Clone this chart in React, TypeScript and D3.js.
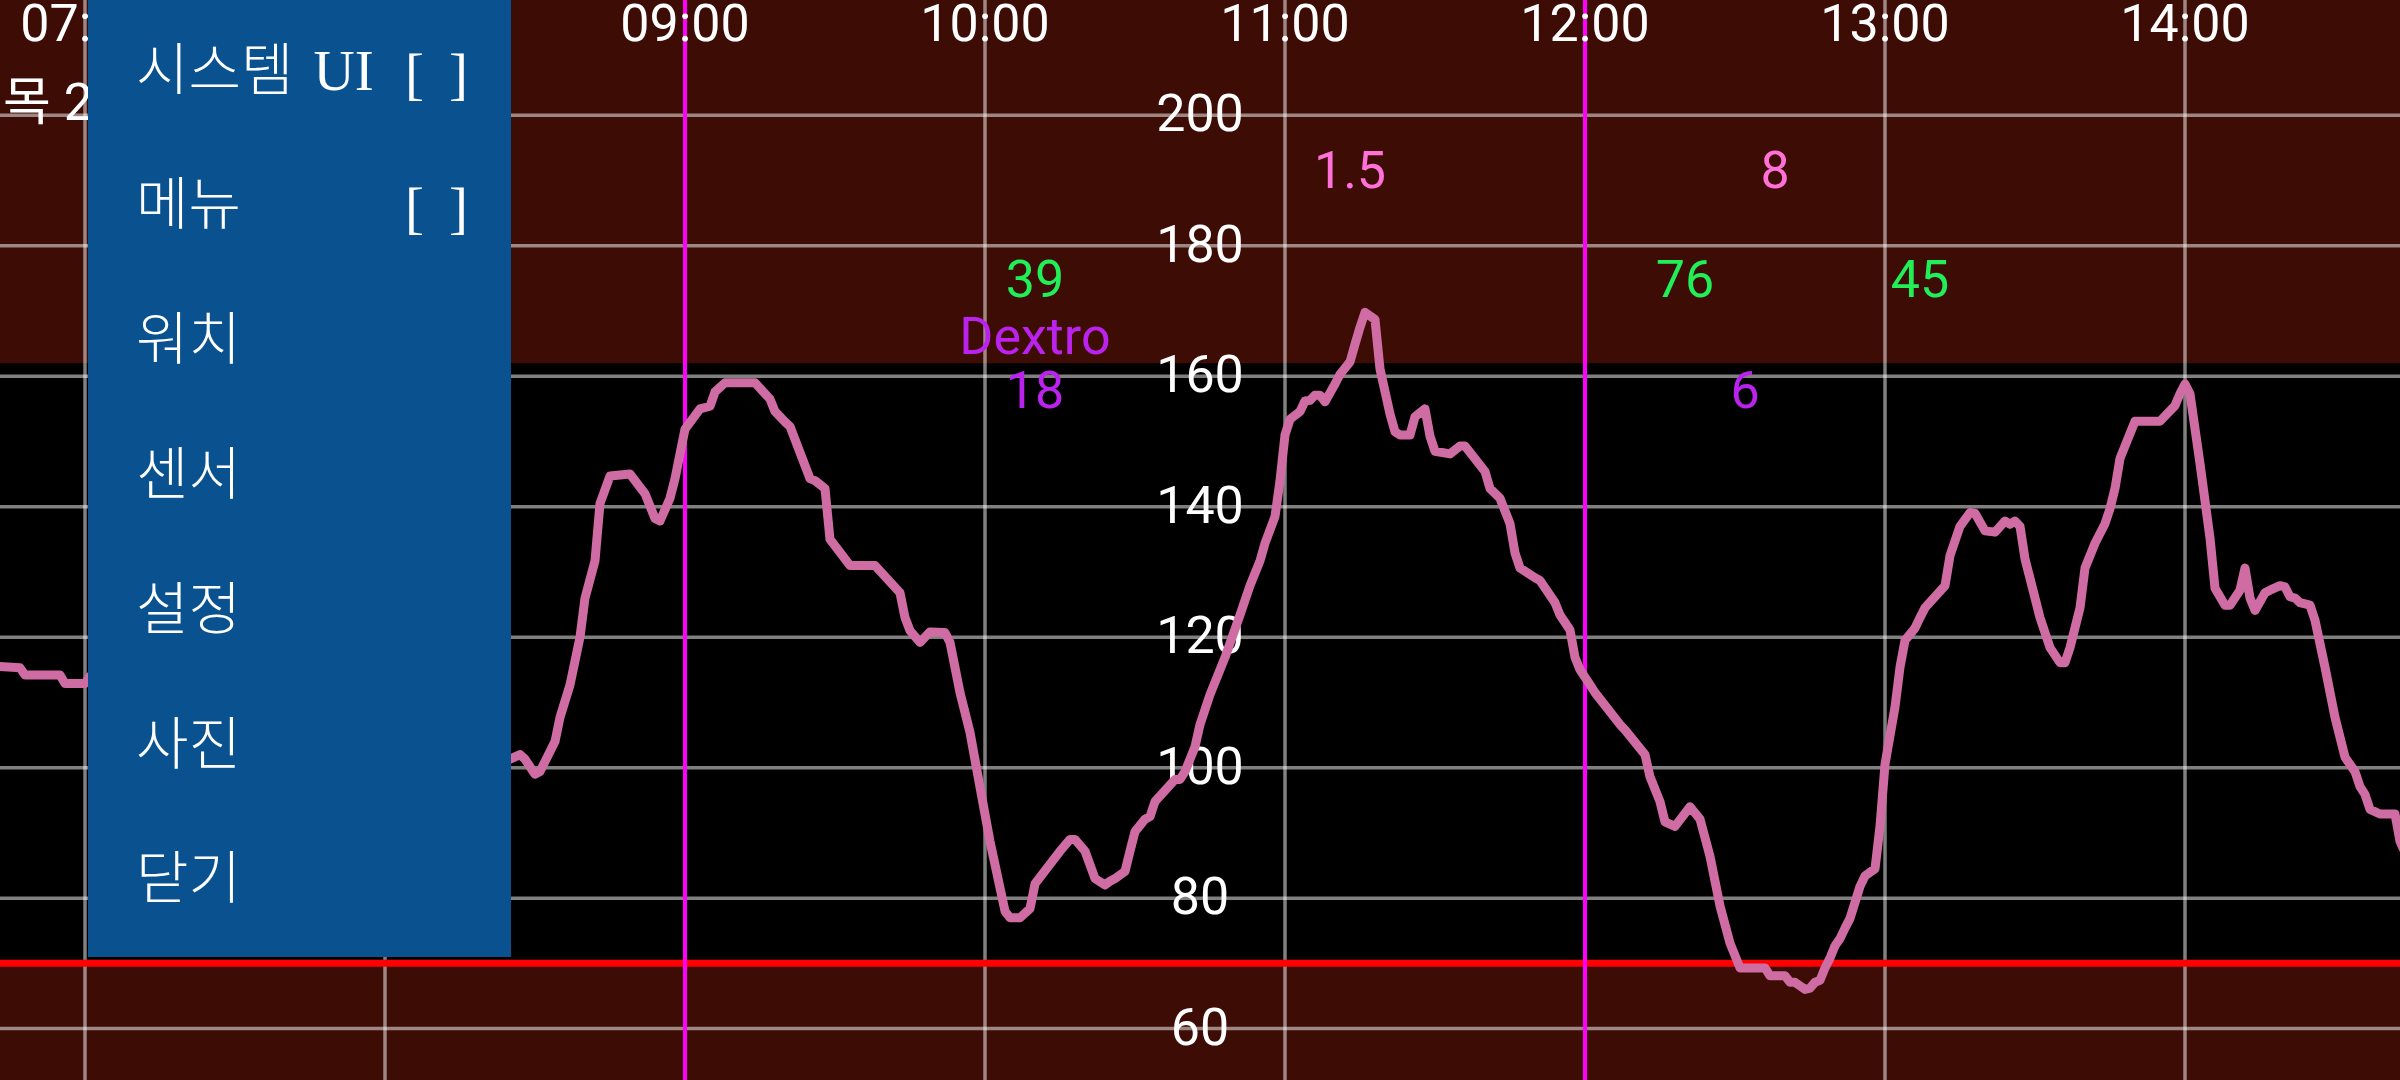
import React from 'react';
import * as d3 from 'd3';

// glucose readings (mg/dL)
const bgTimes = [
  '06:43', '06:47', '06:48', '06:55', '06:56', '07:00', '07:01',
  '08:25', '08:27', '08:28', '08:30', '08:31', '08:34', '08:35', '08:37', '08:39', '08:40',
  '08:42', '08:43', '08:45', '08:49', '08:52', '08:54', '08:55', '08:57', '08:58',
  '09:00', '09:03', '09:05', '09:06', '09:08', '09:14', '09:17', '09:18', '09:20', '09:21',
  '09:25', '09:26', '09:28', '09:29', '09:33', '09:38', '09:43', '09:44', '09:45', '09:47',
  '09:49', '09:52', '09:53', '09:55', '09:57', '09:59',
  '10:01', '10:04', '10:05', '10:07', '10:09', '10:10', '10:15', '10:17', '10:18', '10:20',
  '10:22', '10:24', '10:25', '10:26', '10:28', '10:29', '10:30', '10:32', '10:33', '10:34',
  '10:38', '10:39', '10:40', '10:42', '10:43', '10:45', '10:48', '10:51', '10:53', '10:55',
  '10:56', '10:58', '10:59',
  '11:00', '11:01', '11:03', '11:04', '11:05', '11:06', '11:07', '11:08', '11:10', '11:11',
  '11:13', '11:14', '11:15', '11:16', '11:18', '11:19', '11:21', '11:22', '11:23', '11:25',
  '11:26', '11:28', '11:29', '11:30', '11:33', '11:35', '11:36', '11:40', '11:41', '11:43',
  '11:45', '11:46', '11:47', '11:50', '11:51', '11:54', '11:55', '11:57', '11:58', '11:59',
  '12:01', '12:02', '12:07', '12:08', '12:12', '12:13', '12:15', '12:16', '12:18', '12:21',
  '12:23', '12:25', '12:27', '12:29', '12:31', '12:36', '12:37', '12:40', '12:41', '12:42',
  '12:44', '12:45', '12:46', '12:47', '12:48', '12:49', '12:50', '12:51', '12:52', '12:53',
  '12:55', '12:56', '12:58', '12:59',
  '13:00', '13:02', '13:03', '13:04', '13:06', '13:07', '13:08', '13:12', '13:13', '13:15',
  '13:17', '13:18', '13:20', '13:22', '13:24', '13:25', '13:26', '13:27', '13:28', '13:31',
  '13:33', '13:35', '13:36', '13:37', '13:39', '13:40', '13:42', '13:44', '13:45', '13:46',
  '13:47', '13:50', '13:55', '13:58', '13:59',
  '14:00', '14:01', '14:03', '14:05', '14:06', '14:08', '14:09', '14:11', '14:12', '14:13',
  '14:14', '14:16', '14:17', '14:19', '14:20', '14:21', '14:22', '14:23', '14:25', '14:26',
  '14:28', '14:30', '14:32', '14:34', '14:35', '14:36', '14:37', '14:39', '14:42', '14:43',
  '14:44',
];
const bgValues = [
  115.5, 115.3, 114.2, 114.2, 112.9, 112.9, 114,
  101.3, 102, 101.3, 99, 99.4, 104, 107.7, 112.7, 120, 126,
  131.7, 140.5, 144.7, 145, 142, 138.2, 137.8, 141.3, 144.3,
  151.9, 155, 155.4, 157.6, 159, 159, 156.5, 154.6, 153, 152.3,
  144.3, 144, 142.8, 135, 131, 131, 126.8, 123, 121, 119.2,
  120.8, 120.7, 119.2, 111.5, 105.4, 97,
  88.7, 78, 77, 77, 78.4, 82.2, 87.2, 89, 89, 87.2,
  83, 82, 82.6, 83, 84.1, 87.2, 90.2, 92.1, 92.5, 94.8,
  98.2, 98.2, 99.4, 103.2, 106.6, 111.2, 116.9, 123.4, 127.9, 131.7,
  134.4, 138.5, 144,
  151, 153.4, 154.6, 156.2, 156.3, 157.1, 157.1, 156.1, 158.8, 160.3,
  162.2, 164.9, 167.5, 169.8, 168.7, 161.1, 154.2, 151.5, 151, 151,
  153.8, 155, 150.8, 148.5, 148.1, 149.3, 149.3, 145.4, 142.8, 141.3,
  137.4, 132.9, 130.6, 129.1, 128.7, 125.3, 123.4, 121.1, 116.9, 115,
  112.7, 111.5, 106.6, 105.8, 102, 98.6, 94.8, 91.7, 91, 94,
  92.1, 86.4, 78.8, 73.1, 69.3, 69.3, 68.1, 68.1, 67.1, 67.1,
  66, 66.2, 67.1, 67.4, 69.3, 70.8, 72.7, 73.8, 75.4, 76.9,
  81.8, 83.4, 84.5, 91,
  100.5, 109.3, 115.4, 119.5, 121.4, 123, 124.5, 127.9, 132.5, 137,
  139.1, 139, 136.3, 136.1, 137.8, 137.3, 137.8, 137, 132, 123,
  118.4, 116.1, 116.1, 118.4, 124.5, 130.6, 134.4, 137.4, 139.7, 142.8,
  147.4, 153.1, 153.1, 155.5, 157.3,
  158.8, 157.3, 146.6, 135.2, 127.5, 124.9, 124.9, 127.2, 130.6, 126,
  124.1, 126.8, 127.2, 127.9, 127.7, 126.2, 126, 125.3, 124.9, 122.6,
  115.4, 107.7, 101.6, 99.4, 97.1, 95.9, 93.6, 92.9, 92.9, 88.7,
  87,
];

const hourTicks = ['07:00', '08:00', '09:00', '10:00', '11:00', '12:00', '13:00', '14:00'];
const markerTimes = ['09:00', '12:00'];
const glucoseTicks = [60, 80, 100, 120, 140, 160, 180, 200];
const lowLimit = 70;
const highLimit = 162;

const insulinTimes = ['11:13', '12:38'];
const insulinUnits = ['1.5', '8'];
const carbTimes = ['10:10', '12:20', '13:07'];
const carbGrams = ['39', '76', '45'];
const dextroTimes = ['10:10', '12:32'];
const dextroNames = ['Dextro', ''];
const dextroGrams = ['18', '6'];

const menuItems = ['시스템 UI', '메뉴', '워치', '센서', '설정', '사진', '닫기'];
const menuToggles = [true, true, false, false, false, false, false];
const dayLabel = '목 2';

const W = 2400;
const H = 1080;
const parse = d3.timeParse('%H:%M');

export default function App() {
  const x = d3
    .scaleTime()
    .domain([parse('07:00'), parse('14:00')])
    .range([85, 2185]);
  const y = d3.scaleLinear().domain([60, 200]).range([1028.6, 115.3]);

  const points = bgTimes.map((t, i) => [x(parse(t)), y(bgValues[i])] as [number, number]);
  const path = d3.line()(points);

  const font = 'Roboto, "Noto Sans CJK KR", sans-serif';
  const menuFont = '"Liberation Serif", "Noto Sans CJK KR", serif';
  const grid = 'rgba(255,255,255,0.5)';
  const zoneRed = '#3c0c05';

  return (
    <svg
      width={W}
      height={H}
      style={{ position: 'absolute', left: 0, top: 0, background: '#000' }}
    >
      {/* target zones */}
      <rect x={0} y={0} width={W} height={y(highLimit)} fill={zoneRed} />
      <rect x={0} y={y(lowLimit)} width={W} height={H - y(lowLimit)} fill={zoneRed} />

      {/* grid */}
      {glucoseTicks.map(v => (
        <line key={'h' + v} x1={0} x2={W} y1={y(v)} y2={y(v)} stroke={grid} strokeWidth={3.5} />
      ))}
      {hourTicks.map(t => (
        <line
          key={'v' + t}
          x1={x(parse(t))}
          x2={x(parse(t))}
          y1={0}
          y2={H}
          stroke={grid}
          strokeWidth={3.5}
        />
      ))}

      {/* glucose axis labels in the middle */}
      {glucoseTicks.map(v => (
        <text
          key={'yl' + v}
          x={W / 2}
          y={y(v)}
          dy="0.31em"
          textAnchor="middle"
          fill="#fff"
          fontFamily={font}
          fontSize={52}
        >
          {v}
        </text>
      ))}

      <line x1={0} x2={W} y1={y(lowLimit)} y2={y(lowLimit)} stroke="#ff0000" strokeWidth={7} />

      {markerTimes.map(t => (
        <line
          key={'m' + t}
          x1={x(parse(t))}
          x2={x(parse(t))}
          y1={0}
          y2={H}
          stroke="#ff00ff"
          strokeWidth={4}
        />
      ))}

      <path
        d={path}
        fill="none"
        stroke="#d06ca4"
        strokeWidth={9}
        strokeLinejoin="round"
        strokeLinecap="round"
      />

      {/* treatments */}
      {insulinTimes.map((t, i) => (
        <text key={'ins' + i} x={x(parse(t))} y={188} textAnchor="middle" fill="#ff70d8" fontFamily={font} fontSize={52}>
          {insulinUnits[i]}
        </text>
      ))}
      {carbTimes.map((t, i) => (
        <text key={'carb' + i} x={x(parse(t))} y={297} textAnchor="middle" fill="#22ee55" fontFamily={font} fontSize={52}>
          {carbGrams[i]}
        </text>
      ))}
      {dextroTimes.map((t, i) => (
        <g key={'dex' + i}>
          <text x={x(parse(t))} y={354} textAnchor="middle" fill="#bb22ee" fontFamily={font} fontSize={52}>
            {dextroNames[i]}
          </text>
          <text x={x(parse(t))} y={408} textAnchor="middle" fill="#bb22ee" fontFamily={font} fontSize={52}>
            {dextroGrams[i]}
          </text>
        </g>
      ))}

      {/* hour labels */}
      {hourTicks.map(t => (
        <text key={'xl' + t} x={x(parse(t))} y={41} textAnchor="middle" fill="#fff" fontFamily={font} fontSize={52}>
          {t}
        </text>
      ))}
      <text x={3} y={120} fill="#fff" fontFamily={font} fontSize={52}>
        {dayLabel}
      </text>

      {/* menu overlay */}
      <rect x={88} y={0} width={423} height={957} fill="#0a528f" />
      {menuItems.map((m, i) => {
        const cy = 70 + 134.8 * i;
        return (
          <g key={'menu' + i} fill="#fff" fontFamily={menuFont} fontSize={57}>
            <text x={136} y={cy} dominantBaseline="central" fontWeight={300} wordSpacing={6}>
              {m}
            </text>
            {menuToggles[i] && (
              <>
                <text x={405} y={cy + 3} dominantBaseline="central">[</text>
                <text x={468} y={cy + 3} dominantBaseline="central" textAnchor="end">]</text>
              </>
            )}
          </g>
        );
      })}
    </svg>
  );
}
